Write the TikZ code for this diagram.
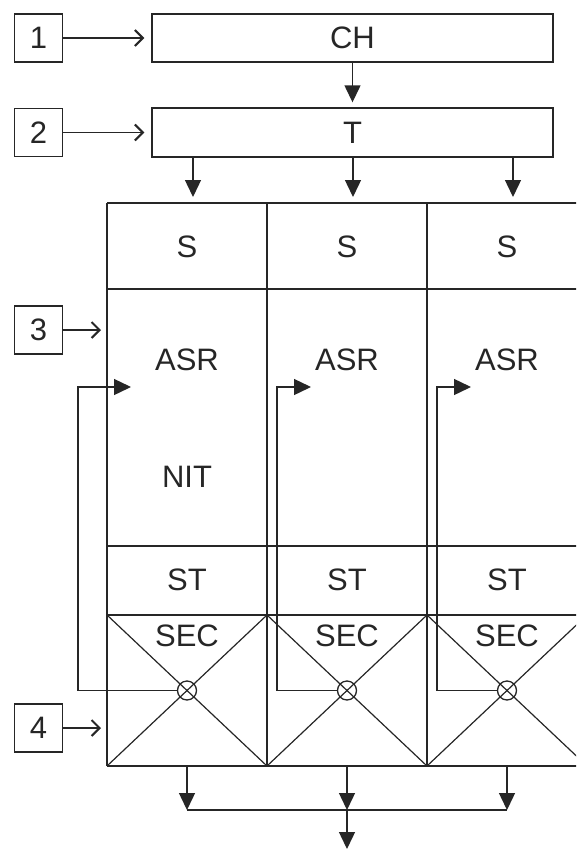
\documentclass[tikz,border=0pt]{standalone}
\usepackage{fontspec}
\setmainfont{Liberation Sans}
\usetikzlibrary{arrows.meta}
\definecolor{ink}{HTML}{262626}
\tikzset{
  every picture/.style={x=1pt,y=-1pt},
  ln/.style={line width=1.4pt,draw=ink},
  lblbox/.style={draw=ink,line width=1.4pt,minimum width=48pt,minimum height=48pt,inner sep=0pt,font=\fontsize{31}{31}\selectfont,text=ink},
  bar/.style={draw=ink,line width=1.4pt,inner sep=0pt,font=\fontsize{31}{31}\selectfont,text=ink},
  txt/.style={inner sep=0pt,font=\fontsize{31}{31}\selectfont,text=ink},
  tri/.style={ln,-{Triangle[width=16pt,length=17pt]}},
  barb/.style={ln,-{Straight Barb[length=8pt,width=16pt,line width=2pt]}},
  ring/.style={circle,draw=ink,line width=1.3pt,minimum size=19pt,inner sep=0pt},
}
\begin{document}
\begin{tikzpicture}
\useasboundingbox (0,0) rectangle (576,849);
\clip (0,0) rectangle (576,849);
% label boxes
\node[lblbox] (n1) at (38.5,38) {1};
\node[lblbox] (n2) at (38.5,132.5) {2};
\node[lblbox] (n3) at (38.5,330) {3};
\node[lblbox] (n4) at (38.5,728) {4};
% CH and T bars
\node[bar,minimum width=401pt,minimum height=48pt] (ch) at (352.5,38) {CH};
\node[bar,minimum width=401pt,minimum height=49pt] (t) at (352.5,132.5) {T};
% label arrows
\draw[barb,shorten >=7pt] (n1.east) -- (ch.west);
\draw[barb,shorten >=7pt] (n2.east) -- (t.west);
\coordinate (g3) at (107,330);
\coordinate (g4) at (107,728);
\draw[barb,shorten >=6pt] (n3.east) -- (g3);
\draw[barb,shorten >=6pt] (n4.east) -- (g4);
% CH -> T
\draw[tri,shorten >=5pt] (ch.south) -- (t.north);
% T -> columns
\foreach \i/\x in {1/193,2/353,3/513}{
  \coordinate (ts\i) at (\x,157);
  \coordinate (gt\i) at (\x,203);
  \draw[tri,shorten >=6pt] (ts\i) -- (gt\i);
}
% grid
\draw[ln] (107,203) -- (590,203);
\draw[ln] (107,289) -- (590,289);
\draw[ln] (107,546) -- (590,546);
\draw[ln] (107,615) -- (590,615);
\draw[ln] (107,766) -- (590,766);
\foreach \x in {107,267,427,587}{
  \draw[ln] (\x,203) -- (\x,766);
}
% SEC crosses
\foreach \x in {107,267,427}{
  \draw[ln,line width=1.2pt] (\x,615) -- (\x+160,766);
  \draw[ln,line width=1.2pt] (\x,766) -- (\x+160,615);
}
% texts
\foreach \i/\x in {1/187,2/347,3/507}{
  \node[txt] (s\i) at (\x,247) {S};
  \node[txt] (asr\i) at (\x,360) {ASR};
  \node[txt] (st\i) at (\x,580) {ST};
  \node[txt] (sec\i) at (\x,636) {SEC};
  \node[ring] (c\i) at (\x,690.5) {};
}
\node[txt] (nit) at (187,477) {NIT};
% feedback loops
\coordinate (f1) at (131,387);
\coordinate (f2) at (311,387);
\coordinate (f3) at (471,387);
\coordinate (v1) at (78,690.5);
\coordinate (v2) at (277,690.5);
\coordinate (v3) at (437,690.5);
\foreach \i in {1,2,3}{
  \draw[tri] (c\i.west) -- (v\i) |- (f\i);
}
% bottom collection
\coordinate (b1) at (187,766);
\coordinate (b2) at (347,766);
\coordinate (b3) at (507,766);
\coordinate (h1) at (187,810);
\coordinate (h2) at (347,810);
\coordinate (h3) at (507,810);
\coordinate (out) at (347,849);
\foreach \i in {1,2,3}{
  \draw[tri] (b\i) -- (h\i);
}
\draw[ln] (h1) -- (h3);
\draw[tri] (h2) -- (out);
\end{tikzpicture}
\end{document}
